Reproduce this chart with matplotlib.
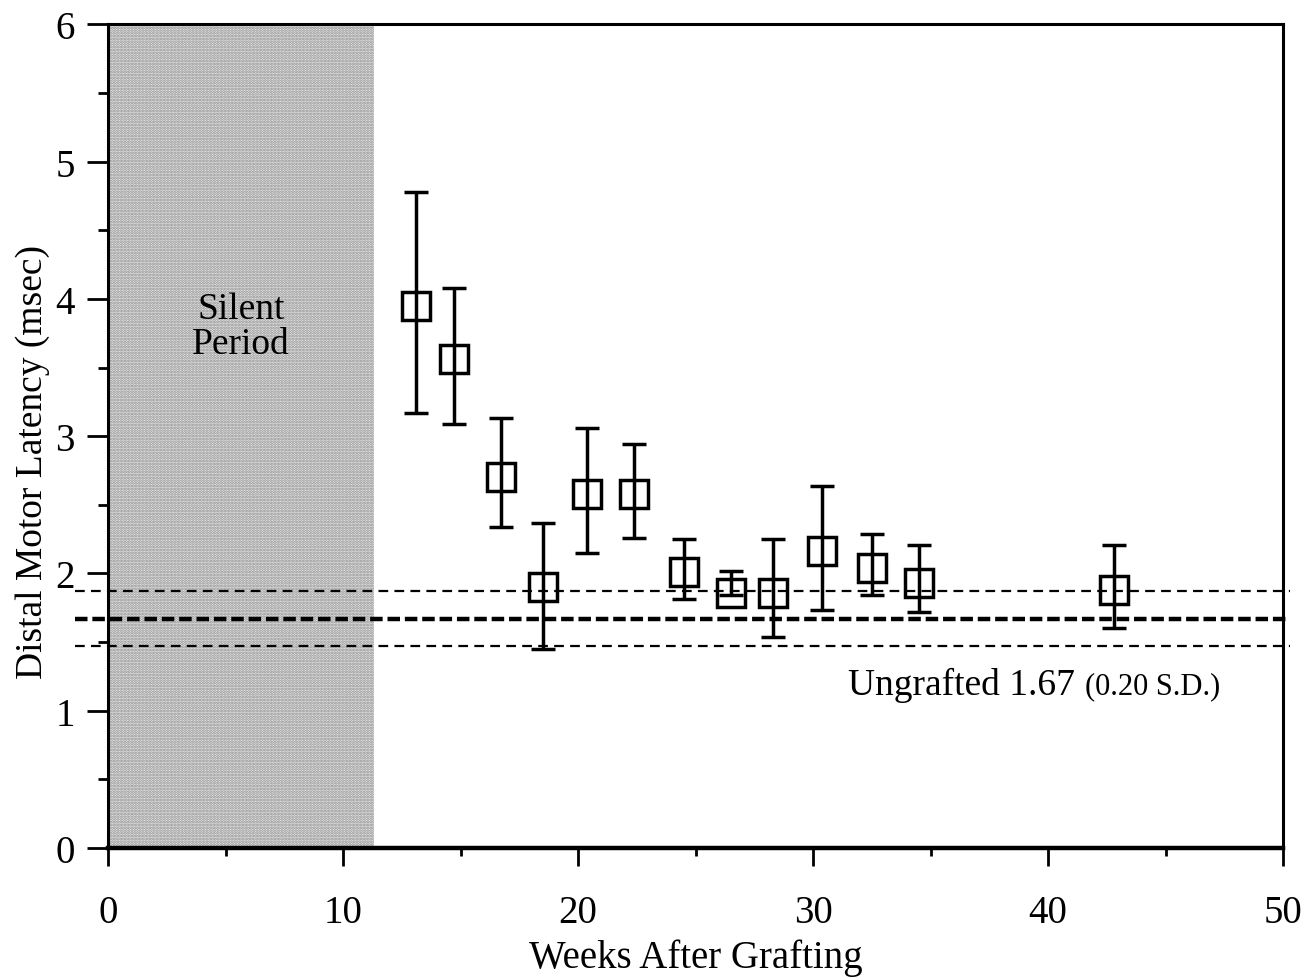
import numpy as np
import matplotlib.pyplot as plt

plt.rcParams['font.family'] = ['Liberation Serif', 'DejaVu Serif']
plt.rcParams['lines.scale_dashes'] = False
plt.rcParams['hatch.linewidth'] = 1.4

# data
weeks = [13.1, 14.7, 16.7, 18.5, 20.4, 22.4, 24.5, 26.5, 28.3, 30.4, 32.5, 34.5, 42.8]
latency = [3.95, 3.56, 2.70, 1.90, 2.58, 2.58, 2.01, 1.86, 1.86, 2.16, 2.04, 1.93, 1.88]
err_hi = [4.78, 4.08, 3.13, 2.37, 3.06, 2.94, 2.25, 2.02, 2.25, 2.64, 2.29, 2.21, 2.21]
err_lo = [3.17, 3.09, 2.34, 1.45, 2.15, 2.26, 1.81, 1.84, 1.54, 1.73, 1.84, 1.72, 1.60]

silent_end = 11.3
ungrafted_mean = 1.67
ungrafted_sd = 0.20

lat = np.array(latency)
yerr = [lat - np.array(err_lo), np.array(err_hi) - lat]

fig = plt.figure(figsize=(13.02, 9.78), dpi=100)
ax = fig.add_axes([0.083, 0.132, 0.9025, 0.842])

# silent period shading
ax.axvspan(0, silent_end, ymin=0, ymax=1, facecolor='#ececec', edgecolor='#8a8a8a',
           hatch='......', linewidth=0, zorder=0)
ax.text(silent_end / 2, 3.8, 'Silent\nPeriod', ha='center', va='center',
        fontsize=27, linespacing=1.0)

# ungrafted mean +/- sd
xl = (-1.4, 50.3)
ax.plot(xl, [ungrafted_mean] * 2, color='black', lw=3.2, dashes=(9, 3.5), clip_on=False, zorder=2)
for yv in (ungrafted_mean + ungrafted_sd, ungrafted_mean - ungrafted_sd):
    ax.plot(xl, [yv] * 2, color='black', lw=1.6, dashes=(7, 4.5), clip_on=False, zorder=2)

ax.errorbar(weeks, latency, yerr=yerr, fmt='s', ms=20, mfc='none', mec='black', mew=2.5,
            ecolor='black', elinewidth=2.5, capsize=8.5, capthick=3, zorder=3)

t = ax.text(31.5, 1.19, 'Ungrafted 1.67', fontsize=27, va='center', ha='left')
ax.annotate('(0.20 S.D.)', xy=(1, 0.5), xycoords=t, xytext=(7, -1), textcoords='offset points',
            fontsize=22, va='center', ha='left')

ax.set_xlim(0, 50)
ax.set_ylim(0, 6)
ax.set_xticks(np.arange(0, 51, 10))
ax.set_xticks(np.arange(5, 50, 10), minor=True)
ax.set_yticks(np.arange(0, 7, 1))
ax.set_yticks(np.arange(0.5, 6, 1), minor=True)

for s in ax.spines.values():
    s.set_linewidth(2.2)
ax.spines['bottom'].set_linewidth(3.2)

ax.tick_params(axis='x', which='major', direction='out', length=13, width=2, pad=20, labelsize=28)
ax.tick_params(axis='x', which='minor', direction='out', length=6, width=2)
ax.tick_params(axis='y', which='major', direction='out', length=15, width=2, pad=9, labelsize=28)
ax.tick_params(axis='y', which='minor', direction='out', length=7, width=2)

ax.set_xlabel('Weeks After Grafting', fontsize=28)
ax.set_ylabel('Distal Motor Latency (msec)', fontsize=27)
ax.xaxis.set_label_coords(0.5, -0.11)
ax.yaxis.set_label_coords(-0.049, 0.47)

fig.savefig('out.png', dpi=100)
